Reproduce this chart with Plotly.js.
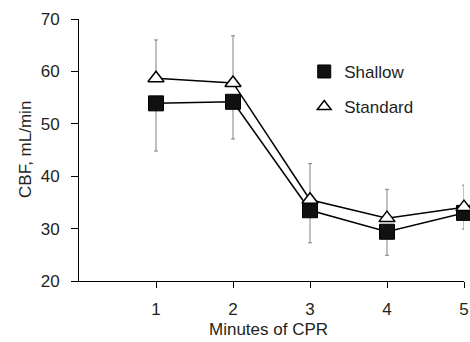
<!DOCTYPE html>
<html>
<head>
<meta charset="utf-8">
<script src="https://cdn.plot.ly/plotly-3.0.1.min.js"></script>
<style>html,body{margin:0;padding:0;background:#fff;}#chart{width:470px;height:342px;}</style>
</head>
<body>
<div id="chart"></div>
<script>
var minutes = [1, 2, 3, 4, 5];
var shallowMean = [53.9, 54.2, 33.5, 29.4, 33.0];
var shallowLower = [44.8, 47.1, 27.3, 24.9, 29.9];
var standardMean = [58.7, 57.8, 35.5, 32.0, 34.1];
var standardUpper = [66.0, 66.8, 42.4, 37.5, 38.3];
var xTicks = [1, 2, 3, 4, 5];
var yTicks = [20, 30, 40, 50, 60, 70];
var xTitle = 'Minutes of CPR';
var yTitle = 'CBF, mL/min';

var font = {family: 'Liberation Sans, Arial, sans-serif', size: 17, color: '#231f20'};
var errStyle = {color: '#808080', thickness: 1, width: 2};

var traces = [
  {
    x: minutes, y: shallowMean, type: 'scatter', mode: 'lines+markers', name: 'Shallow', showlegend: false,
    cliponaxis: false,
    line: {color: '#000', width: 1.5},
    marker: {symbol: 'square', size: 15, color: '#111', line: {color: '#000', width: 1}},
    error_y: Object.assign({type: 'data', symmetric: false,
      array: minutes.map(function(){return 0;}),
      arrayminus: shallowMean.map(function(v, i){return v - shallowLower[i];})}, errStyle)
  },
  {
    x: minutes, y: standardMean, type: 'scatter', mode: 'lines+markers', name: 'Standard', showlegend: false,
    cliponaxis: false,
    line: {color: '#000', width: 1.5},
    marker: {symbol: 'triangle-up', size: 14, color: '#fff', line: {color: '#000', width: 1.5}},
    error_y: Object.assign({type: 'data', symmetric: false,
      array: standardMean.map(function(v, i){return standardUpper[i] - v;}),
      arrayminus: minutes.map(function(){return 0;})}, errStyle)
  },
  {
    x: [null], y: [null], type: 'scatter', mode: 'markers', name: 'Shallow', legend: 'legend',
    marker: {symbol: 'square', size: 13, color: '#111', line: {color: '#000', width: 1}}
  },
  {
    x: [null], y: [null], type: 'scatter', mode: 'markers', name: 'Standard', legend: 'legend2',
    marker: {symbol: 'triangle-up', size: 12, color: '#fff', line: {color: '#000', width: 1.5}}
  }
];

var legendBase = {xanchor: 'left', yanchor: 'middle', bgcolor: 'rgba(0,0,0,0)', font: font, itemwidth: 30, borderwidth: 0};

var layout = {
  width: 470, height: 342,
  margin: {l: 78.5, r: 6, t: 19, b: 61},
  paper_bgcolor: '#fff', plot_bgcolor: '#fff',
  font: font,
  showlegend: true,
  legend: Object.assign({x: 0.585, y: 0.798}, legendBase),
  legend2: Object.assign({x: 0.585, y: 0.664}, legendBase),
  xaxis: {
    range: [0, 5], tickvals: xTicks, ticktext: xTicks.map(String),
    showgrid: false, zeroline: false, showline: true, linecolor: '#000', linewidth: 1,
    ticks: 'outside', ticklen: 6, tickcolor: '#000', tickwidth: 1,
    tickfont: font, automargin: false, ticklabelstandoff: 7
  },
  yaxis: {
    range: [20, 70], tickvals: yTicks, ticktext: yTicks.map(String),
    showgrid: false, zeroline: false, showline: true, linecolor: '#000', linewidth: 1,
    ticks: 'outside', ticklen: 7, tickcolor: '#000', tickwidth: 1,
    tickfont: font, automargin: false, ticklabelstandoff: 8
  },
  annotations: [
    {text: xTitle, xref: 'paper', yref: 'paper', x: 0.493, y: -0.187, xanchor: 'center', yanchor: 'middle',
     showarrow: false, font: font, borderpad: 0, borderwidth: 0},
    {text: yTitle, xref: 'paper', yref: 'paper', x: -0.139, y: 0.502, xanchor: 'center', yanchor: 'middle',
     textangle: -90, showarrow: false, font: font, borderpad: 0, borderwidth: 0}
  ]
};

Plotly.newPlot('chart', traces, layout, {displayModeBar: false, staticPlot: true});
</script>
</body>
</html>
